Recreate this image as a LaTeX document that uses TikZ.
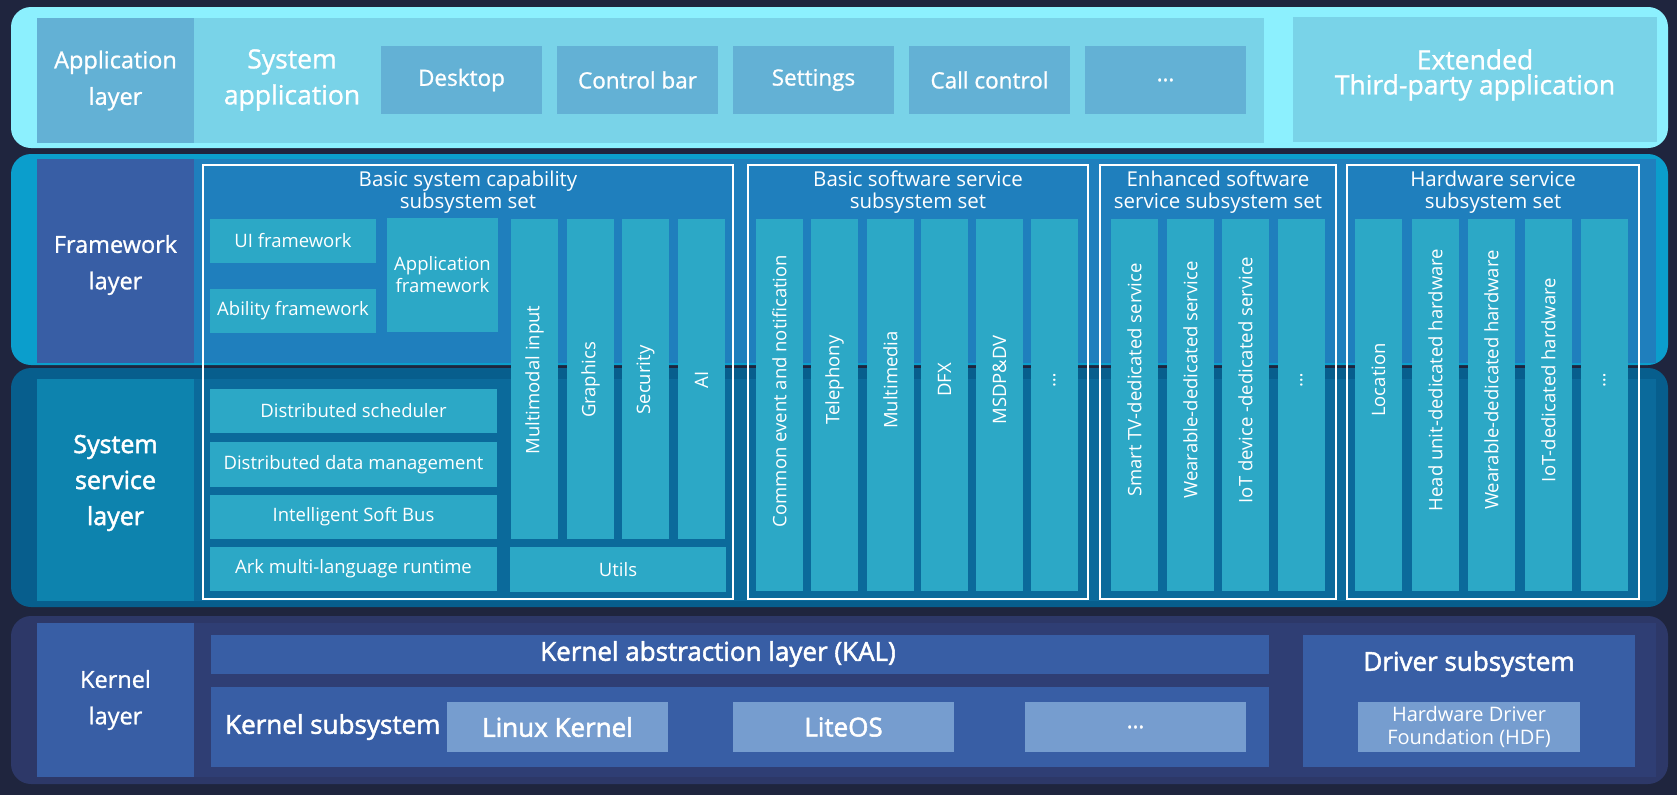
\documentclass[tikz,border=0pt]{standalone}
\usepackage{fontspec}
\setmainfont{Open Sans}
\newfontfamily\medfont{Open Sans}[FakeBold=1]
\newfontfamily\semifont{Open Sans}[FakeBold=2]

\definecolor{bgnavy}{RGB}{31,37,62}
\definecolor{appouter}{RGB}{140,240,254}
\definecolor{appmid}{RGB}{99,177,213}
\definecolor{applight}{RGB}{121,211,232}
\definecolor{fwouter}{RGB}{11,158,204}
\definecolor{fwinner}{RGB}{31,127,189}
\definecolor{laybar}{RGB}{56,94,165}
\definecolor{ssouter}{RGB}{7,94,141}
\definecolor{ssinner}{RGB}{11,106,155}
\definecolor{sslabel}{RGB}{13,131,174}
\definecolor{tealbox}{RGB}{44,168,198}
\definecolor{kouter}{RGB}{45,56,104}
\definecolor{kinner}{RGB}{47,62,116}
\definecolor{klight}{RGB}{118,157,207}

\newcommand\txtsmall{\fontsize{18.5}{22}\selectfont}
\newcommand\txttitle{\fontsize{20.5}{22.5}\selectfont}
\newcommand\txtlayer{\medfont\fontsize{23.5}{36.5}\selectfont}
\newcommand\txtapp{\medfont\fontsize{22.5}{25}\selectfont}
\newcommand\txtbig{\medfont\fontsize{26.5}{36}\selectfont}
\newcommand\txtext{\medfont\fontsize{26.5}{25}\selectfont}
\newcommand\txtkern{\semifont\fontsize{26}{36}\selectfont}
\newcommand\txtss{\semifont\fontsize{25}{36}\selectfont}

\tikzset{
  blk/.style={anchor=north west, inner sep=0pt, outer sep=0pt, text=white, align=center},
  layer/.style={blk, rounded corners=20pt},
  setframe/.style={blk, draw=white, line width=1.6pt},
  col/.style={blk, fill=tealbox, minimum width=47, minimum height=372},
  vtxt/.style={rotate=90, text=white, font=\txtsmall, inner sep=0pt},
  small/.style={blk, fill=tealbox, font=\txtsmall},
}

\begin{document}
\begin{tikzpicture}[x=1pt, y=-1pt]
\fill[bgnavy] (0,0) rectangle (1677,795);
\useasboundingbox (0,0) rectangle (1677,795);

% layer backgrounds
\node[layer, fill=appouter, minimum width=1657, minimum height=141] (applayer) at (11,7) {};
\node[layer, fill=fwouter, minimum width=1657, minimum height=211] (fwlayer) at (11,154) {};
\node[layer, fill=ssouter, minimum width=1657, minimum height=239] (sslayer) at (11,368) {};
\node[layer, fill=kouter, minimum width=1657, minimum height=168] (klayer) at (11,616) {};

\node[blk, fill=fwinner, minimum width=1619, minimum height=204] (fwarea) at (37,159) {};
\node[blk, fill=ssinner, minimum width=1619, minimum height=222] (ssarea) at (37,379) {};
\node[blk, fill=kinner, minimum width=1619, minimum height=154] (karea) at (37,623) {};

% layer labels
\node[blk, fill=appmid, minimum width=157, minimum height=125, font=\txtlayer] (applab) at (37,18) {Application\\layer};
\node[blk, fill=laybar, minimum width=157, minimum height=204] (fwlab) at (37,159) {};
\node[text=white, font=\txtlayer, align=center] (fwlabtxt) at (115.5,265) {Framework\\layer};
\node[blk, fill=sslabel, minimum width=157, minimum height=222] (sslab) at (37,379) {};
\node[text=white, font=\txtss, align=center] (sslabtxt) at (115.5,483) {System\\service\\layer};
\node[blk, fill=laybar, minimum width=157, minimum height=154, font=\txtlayer] (klab) at (37,623) {Kernel\\layer};

% application layer
\node[blk, fill=applight, minimum width=1070, minimum height=125] (sysapp) at (194,18) {};
\node[text=white, font=\txtbig, align=center] (sysapptxt) at (292,80) {System\\application};
\foreach \i/\name/\txt in {0/desk/Desktop, 1/ctrlbar/Control bar, 2/sett/Settings, 3/callctl/Call control, 4/appmore/\dots}
  \node[blk, fill=appmid, minimum width=161, minimum height=68, font=\txtapp] (\name) at ({381+176*\i},46) {\txt};
\node[blk, fill=applight, minimum width=364, minimum height=125] (extapp) at (1293,17) {};
\node[text=white, font=\txtext, align=center] (extapptxt) at (1475,75) {Extended\\Third-party application};

% subsystem sets
\node[setframe, minimum width=530, minimum height=434] (bsc) at (203,165) {};
\node[setframe, minimum width=340, minimum height=434] (bsw) at (748,165) {};
\node[setframe, minimum width=236, minimum height=434] (ess) at (1100,165) {};
\node[setframe, minimum width=292, minimum height=434] (hws) at (1347,165) {};
\node[text=white, font=\txttitle, align=center] (bsctitle) at (468,192) {Basic system capability\\subsystem set};
\node[text=white, font=\txttitle, align=center] (bswtitle) at (918,192) {Basic software service\\subsystem set};
\node[text=white, font=\txttitle, align=center] (esstitle) at (1218,192) {Enhanced software\\service subsystem set};
\node[text=white, font=\txttitle, align=center] (hwstitle) at (1493,192) {Hardware service\\subsystem set};

% basic system capability
\node[small, minimum width=166, minimum height=44] (uifw) at (210,219) {UI framework};
\node[small, minimum width=166, minimum height=44] (abfw) at (210,289) {Ability framework};
\node[small, minimum width=111, minimum height=114] (appfw) at (387,218) {Application\\framework};
\foreach \name/\y/\h/\txt in {dsched/389/44/Distributed scheduler, ddata/442/45/Distributed data management, softbus/495/44/Intelligent Soft Bus, arkrt/547/44/Ark multi-language runtime}
  \node[small, minimum width=287, minimum height=\h] (\name) at (210,\y) {\txt};
\node[small, minimum width=216, minimum height=45] (utils) at (510,547) {Utils};
\foreach \name/\x/\txt in {mminput/511/Multimodal input, graphics/567/Graphics, security/622/Security, ai/678/AI}{
  \node[col, minimum height=320] (\name) at (\x,219) {};
  \node[vtxt] (\name txt) at ({\x+23.5},380) {\txt};
}

% basic software service
\foreach \name/\x/\y/\txt in {cesn/756/391/Common event and notification, tele/811/380/Telephony, mmedia/867/380/Multimedia, dfx/921/380/DFX, msdp/976/380/MSDP\&DV, bswmore/1031/380/\dots}{
  \node[col] (\name) at (\x,219) {};
  \node[vtxt] (\name txt) at ({\x+23.5},\y) {\txt};
}

% enhanced software service
\foreach \name/\x/\txt in {smarttv/1111/Smart TV-dedicated service, wearsvc/1167/Wearable-dedicated service, iotsvc/1222/IoT device -dedicated service, essmore/1278/\dots}{
  \node[col] (\name) at (\x,219) {};
  \node[vtxt] (\name txt) at ({\x+23.5},380) {\txt};
}

% hardware service
\foreach \name/\x/\txt in {location/1355/Location, headunit/1412/Head unit-dedicated hardware, wearhw/1468/Wearable-dedicated hardware, iothw/1525/IoT-dedicated hardware, hwsmore/1581/\dots}{
  \node[col] (\name) at (\x,219) {};
  \node[vtxt] (\name txt) at ({\x+23.5},380) {\txt};
}

% kernel layer
\node[blk, fill=laybar, minimum width=1058, minimum height=39] (kal) at (211,635) {};
\node[text=white, font=\txtkern] (kaltxt) at (718,654) {Kernel abstraction layer (KAL)};
\node[blk, fill=laybar, minimum width=1058, minimum height=80] (ksub) at (211,687) {};
\node[anchor=west, inner sep=0pt, text=white, font=\txtkern] (ksubtxt) at (225,727) {Kernel subsystem};
\foreach \name/\x/\txt in {linux/447/Linux Kernel, liteos/733/LiteOS}
  \node[blk, fill=klight, minimum width=221, minimum height=50, font=\txtkern] (\name) at (\x,702) {\txt};
\node[blk, fill=klight, minimum width=221, minimum height=50, font=\txtapp] (kmore) at (1025,702) {\dots};
\node[blk, fill=laybar, minimum width=332, minimum height=132] (driver) at (1303,635) {};
\node[text=white, font=\txtkern] (drivertxt) at (1469,664) {Driver subsystem};
\node[blk, fill=klight, minimum width=222, minimum height=50, font=\fontsize{20}{23}\selectfont] (hdf) at (1358,702) {Hardware Driver\\Foundation (HDF)};
\end{tikzpicture}
\end{document}
